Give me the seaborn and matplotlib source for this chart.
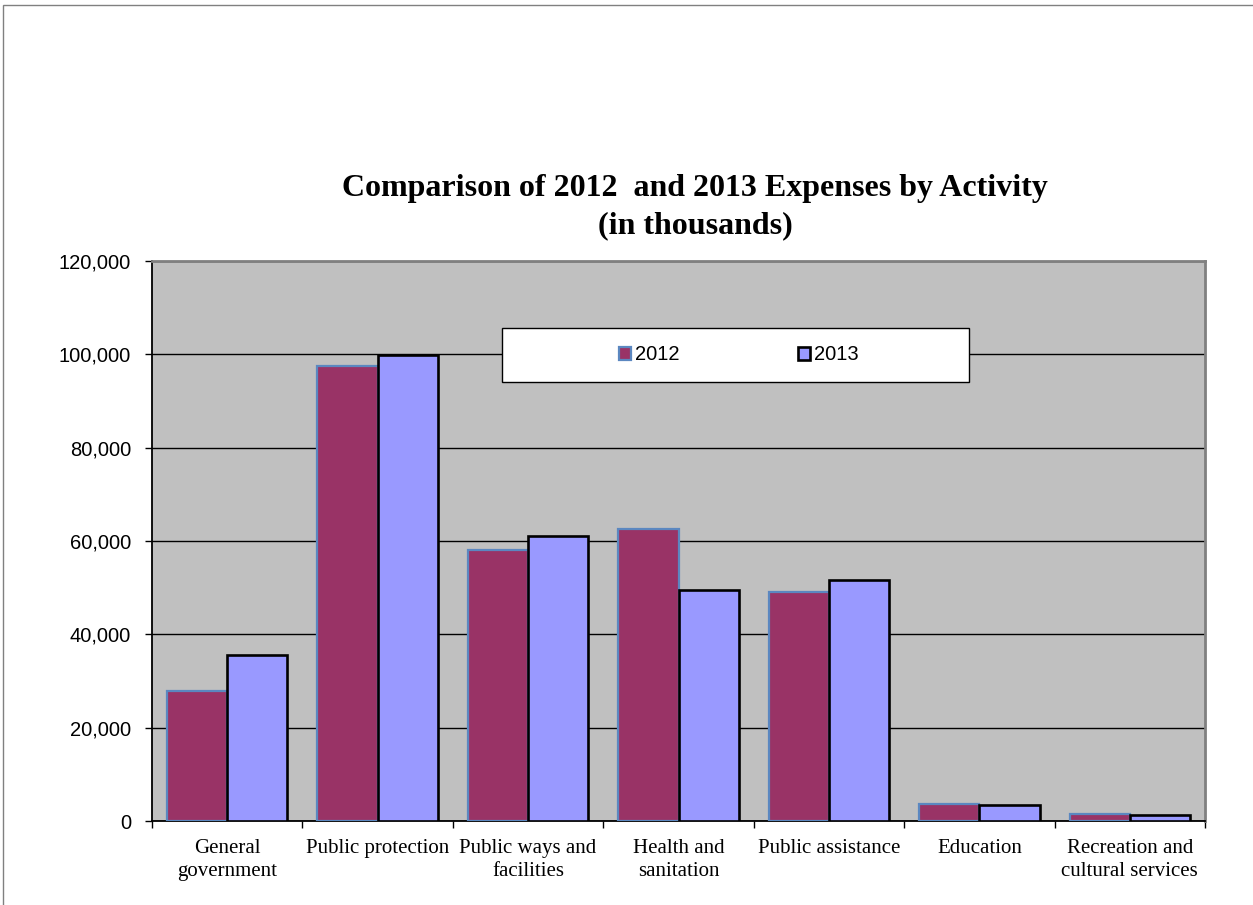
"""
plot.py - Comparison of 2012 and 2013 expenses by activity (grouped bars).

Output: out.png (1253x905)
"""

import matplotlib
matplotlib.use("Agg")
import matplotlib.pyplot as plt
import matplotlib.ticker as mticker
from matplotlib.patches import Patch, Rectangle
import pandas as pd
import seaborn as sns

# ------------------------------------------------------------------
# Data (thousands of dollars)
# ------------------------------------------------------------------
activities = [
    "General government",
    "Public protection",
    "Public ways and facilities",
    "Health and sanitation",
    "Public assistance",
    "Education",
    "Recreation and cultural services",
]
tick_labels = [
    "General\ngovernment",
    "Public protection",
    "Public ways and\nfacilities",
    "Health and\nsanitation",
    "Public assistance",
    "Education",
    "Recreation and\ncultural services",
]
years = ["2012", "2013"]
expenses_2012 = [27900, 97500, 58100, 62600, 49000, 3600, 1400]
expenses_2013 = [35500, 99800, 61100, 49600, 51600, 3500, 1300]

df = pd.DataFrame({
    "activity": activities * 2,
    "year": [years[0]] * len(activities) + [years[1]] * len(activities),
    "expense": expenses_2012 + expenses_2013,
})

# ------------------------------------------------------------------
# Style
# ------------------------------------------------------------------
sns.set_style("ticks")
plt.rcParams["font.family"] = ["Liberation Sans", "DejaVu Sans"]
plt.rcParams["text.color"] = "black"
plt.rcParams["xtick.color"] = "black"
plt.rcParams["ytick.color"] = "black"

fill_colors = {"2012": "#993366", "2013": "#9999FF"}
edge_colors = {"2012": "#5B87C0", "2013": "#000000"}
edge_widths = {"2012": 1.6, "2013": 1.9}

W, H = 1253, 905
fig = plt.figure(figsize=(W / 100, H / 100), dpi=100)
ax = fig.add_axes([152 / W, 1 - 821 / H, (1205 - 152) / W, (821 - 261) / H])
ax.set_facecolor("#C0C0C0")

sns.barplot(
    data=df, x="activity", y="expense", hue="year", order=activities,
    hue_order=years, palette=fill_colors, saturation=1, width=0.8,
    legend=False, ax=ax, zorder=3,
)

for year, container in zip(years, ax.containers):
    for bar in container:
        bar.set_edgecolor(edge_colors[year])
        bar.set_linewidth(edge_widths[year])

# --- Axes ---
ax.set_xlim(-0.5, len(activities) - 0.5)
ax.set_ylim(0, 120000)
ax.yaxis.set_major_locator(mticker.MultipleLocator(20000))
ax.yaxis.set_major_formatter(mticker.StrMethodFormatter("{x:,.0f}"))
ax.grid(axis="y", color="#000000", linewidth=1.0, zorder=1)
ax.set_axisbelow(True)
ax.set_xlabel("")
ax.set_ylabel("")

ax.set_xticks(range(len(activities)))
ax.set_xticklabels(tick_labels, family=["Liberation Serif"], fontsize=15,
                   linespacing=1.3, color="black")
ax.set_xticks([i - 0.5 for i in range(len(activities) + 1)], minor=True)
ax.tick_params(axis="x", which="major", length=0, pad=13)
ax.tick_params(axis="x", which="minor", length=5, width=1, color="black",
               direction="out")
ax.tick_params(axis="y", which="major", length=5, width=1, color="black",
               direction="out", pad=10, labelsize=14.5, labelcolor="black")

for side in ("left", "bottom"):
    ax.spines[side].set_color("black")
    ax.spines[side].set_linewidth(1.3)
for side in ("top", "right"):
    ax.spines[side].set_visible(True)
    ax.spines[side].set_color("#808080")
    ax.spines[side].set_linewidth(2)

# --- Title ---
fig.text(695 / W, 1 - 207 / H,
         "Comparison of 2012  and 2013 Expenses by Activity\n(in thousands)",
         ha="center", va="center", family=["Liberation Serif"],
         fontweight="bold", fontsize=23, linespacing=1.35, color="black")

# --- Legend: white box with the two entries centred inside ---
fig.patches.append(Rectangle(
    (502 / W, 1 - 382 / H), (969 - 502) / W, (382 - 328) / H,
    transform=fig.transFigure, facecolor="white", edgecolor="black",
    linewidth=1, zorder=5,
))
handles = [
    Patch(facecolor=fill_colors[y], edgecolor=edge_colors[y],
          linewidth=edge_widths[y], label=y)
    for y in years
]
leg = fig.legend(
    handles=handles, loc="center", bbox_to_anchor=(739 / W, 1 - 355 / H),
    ncol=2, frameon=False, fontsize=14.5, handlelength=0.6,
    handleheight=0.6, handletextpad=0.2, columnspacing=5.9,
)
leg.set_zorder(6)

# --- Thin grey border of the chart area ---
fig.patches.append(Rectangle(
    (3 / W, -0.05), 1.1, 1 - 5 / H + 0.05, transform=fig.transFigure,
    facecolor="none", edgecolor="#808080", linewidth=1, clip_on=False,
))

fig.savefig("out.png", dpi=100)
plt.close(fig)
